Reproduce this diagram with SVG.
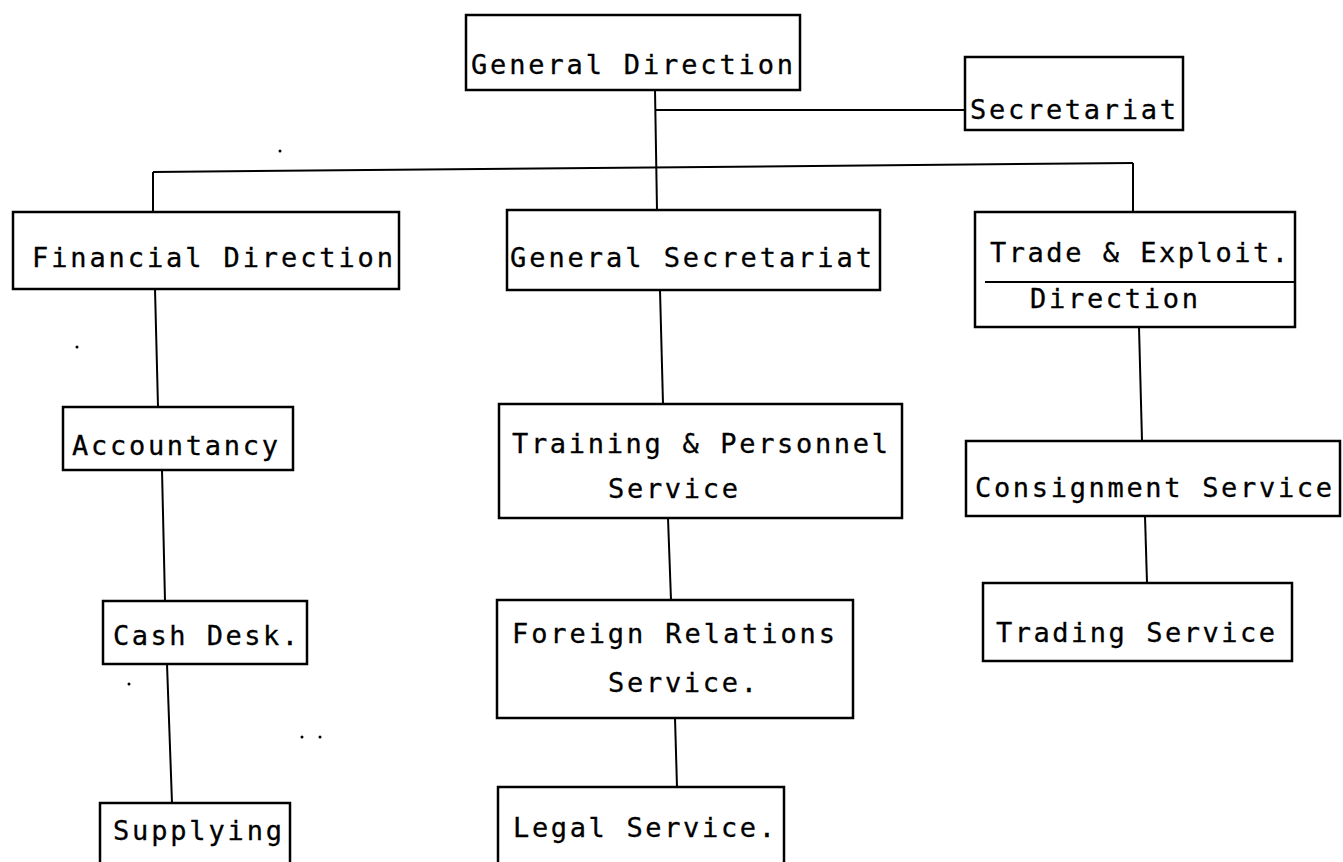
<svg xmlns="http://www.w3.org/2000/svg" width="1343" height="862" viewBox="0 0 1343 862">
<style>
rect.box{fill:#fff;stroke:#000;stroke-width:2.5}
.lbl{font-family:"DejaVu Sans Mono","Liberation Mono",monospace;font-size:27px;fill:#000;stroke:#000;stroke-width:0.3}
.conn line{stroke:#000;stroke-width:2;fill:none}
.speck{fill:#000}
</style>
<rect width="1343" height="862" fill="#fff"/>
<g id="connectors" class="conn">
<line x1="655" y1="90" x2="657" y2="210"/>
<line x1="655" y1="110" x2="965" y2="110"/>
<line x1="153" y1="172" x2="1133" y2="163"/>
<line x1="153" y1="172" x2="153" y2="213"/>
<line x1="1133" y1="163" x2="1133" y2="212"/>
<line x1="155" y1="289" x2="158" y2="407"/>
<line x1="162" y1="470" x2="165" y2="601"/>
<line x1="167" y1="664" x2="172" y2="803"/>
<line x1="660" y1="290" x2="663" y2="404"/>
<line x1="668" y1="518" x2="671" y2="600"/>
<line x1="675" y1="718" x2="677" y2="787"/>
<line x1="1139" y1="327" x2="1142" y2="441"/>
<line x1="1145" y1="516" x2="1147" y2="583"/>
</g>
<g id="general-direction">
<rect class="box" x="466" y="15" width="334" height="75"/>
<text class="lbl" x="471" y="74" textLength="322" lengthAdjust="spacing">General Direction</text>
</g>
<g id="secretariat">
<rect class="box" x="965" y="57" width="218" height="73"/>
<text class="lbl" x="970" y="119" textLength="206" lengthAdjust="spacing">Secretariat</text>
</g>
<g id="financial-direction">
<rect class="box" x="13" y="212" width="386" height="77"/>
<text class="lbl" x="32" y="267" textLength="361" lengthAdjust="spacing">Financial Direction</text>
</g>
<g id="general-secretariat">
<rect class="box" x="507" y="210" width="373" height="80"/>
<text class="lbl" x="510" y="267" textLength="362" lengthAdjust="spacing">General Secretariat</text>
</g>
<g id="trade-exploit-direction">
<rect class="box" x="975" y="212" width="320" height="115"/>
<line x1="985" y1="282" x2="1295" y2="282" stroke="#000" stroke-width="2"/>
<text class="lbl" x="990" y="262" textLength="298" lengthAdjust="spacing">Trade &amp; Exploit.</text>
<text class="lbl" x="1030" y="308" textLength="168" lengthAdjust="spacing">Direction</text>
</g>
<g id="accountancy">
<rect class="box" x="63" y="407" width="230" height="63"/>
<text class="lbl" x="72" y="455" textLength="206" lengthAdjust="spacing">Accountancy</text>
</g>
<g id="training-personnel">
<rect class="box" x="499" y="404" width="403" height="114"/>
<text class="lbl" x="512" y="453" textLength="376" lengthAdjust="spacing">Training &amp; Personnel</text>
<text class="lbl" x="608" y="498" textLength="130" lengthAdjust="spacing">Service</text>
</g>
<g id="consignment-service">
<rect class="box" x="966" y="441" width="374" height="75"/>
<text class="lbl" x="975" y="497" textLength="357" lengthAdjust="spacing">Consignment Service</text>
</g>
<g id="cash-desk">
<rect class="box" x="103" y="601" width="204" height="63"/>
<text class="lbl" x="113" y="645" textLength="185" lengthAdjust="spacing">Cash Desk.</text>
</g>
<g id="foreign-relations">
<rect class="box" x="497" y="600" width="356" height="118"/>
<text class="lbl" x="512" y="643" textLength="323" lengthAdjust="spacing">Foreign Relations</text>
<text class="lbl" x="608" y="692" textLength="149" lengthAdjust="spacing">Service.</text>
</g>
<g id="trading-service">
<rect class="box" x="983" y="583" width="309" height="78"/>
<text class="lbl" x="996" y="642" textLength="279" lengthAdjust="spacing">Trading Service</text>
</g>
<g id="supplying">
<rect class="box" x="100" y="803" width="190" height="80"/>
<text class="lbl" x="113" y="840" textLength="169" lengthAdjust="spacing">Supplying</text>
</g>
<g id="legal-service">
<rect class="box" x="498" y="787" width="286" height="96"/>
<text class="lbl" x="513" y="837" textLength="262" lengthAdjust="spacing">Legal Service.</text>
</g>
<g id="specks">
<circle class="speck" cx="280" cy="151" r="1.5"/>
<circle class="speck" cx="77" cy="347" r="1.5"/>
<circle class="speck" cx="129" cy="684" r="1.5"/>
<circle class="speck" cx="302" cy="737" r="1.5"/>
<circle class="speck" cx="320" cy="737" r="1.5"/>
</g>
</svg>
